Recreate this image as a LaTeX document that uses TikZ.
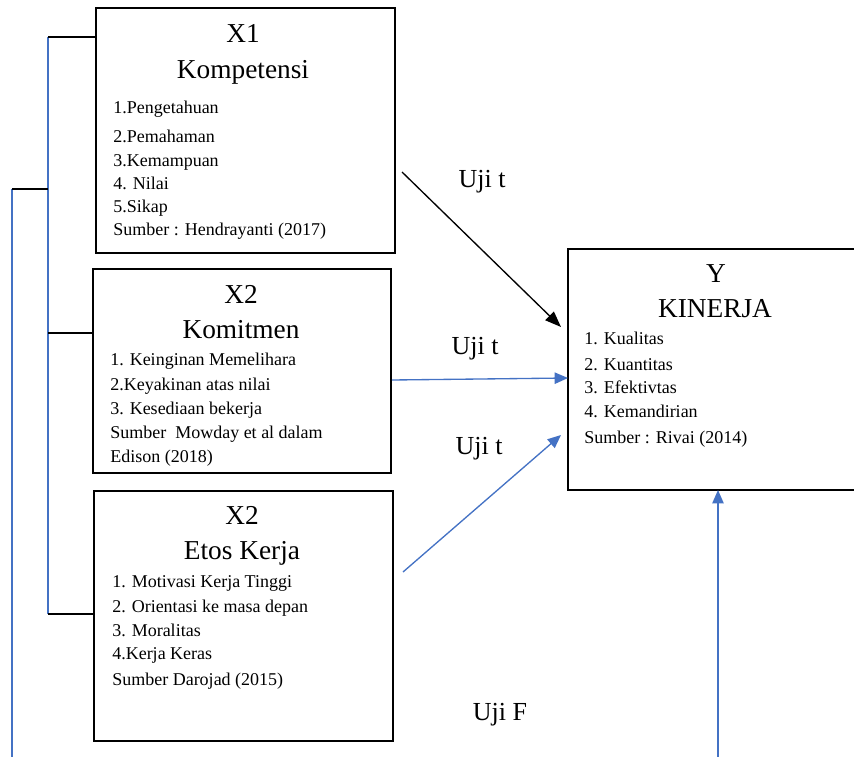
\documentclass[tikz,border=0pt]{standalone}
\usepackage{fontspec}
\setmainfont{Liberation Serif}
\usetikzlibrary{arrows.meta}
\definecolor{birugaris}{RGB}{68,114,196}

\begin{document}
\begin{tikzpicture}[x=0.75pt, y=-0.75pt,
    box/.style={draw, line width=1.2pt, inner sep=0pt, outer sep=0pt},
    judul/.style={font=\fontsize{20.5}{24}\selectfont, anchor=base},
    isi/.style={font=\fontsize{13.5}{16}\selectfont, anchor=base west, inner sep=0pt},
    uji/.style={font=\fontsize{19.5}{23}\selectfont, anchor=base},
    garis/.style={line width=1pt},
    biru/.style={draw=birugaris, line width=1pt},
    panahbiru/.style={biru, -{Triangle[length=10pt,width=8.5pt]}}]

      \useasboundingbox (0,0) rectangle (854,757);
      \clip (0,0) rectangle (854,757);

      % Boxes
      \node[box, minimum width=224.25pt, minimum height=183.75pt] (x1) at (245.5,130.5) {};
      \node[box, minimum width=223.5pt, minimum height=153pt] (x2) at (242,371) {};
      \node[box, minimum width=224.25pt, minimum height=187.5pt] (x3) at (243.5,616) {};
      \node[box, minimum width=223.5pt, minimum height=180.75pt] (y) at (717,369.5) {};

      % X1 Kompetensi
      \node[judul] (x1a) at (243,42) {X1};
      \node[judul] (x1b) at (243,78) {Kompetensi};
      \node[isi] (x1c) at (113,113) {1.Pengetahuan};
      \node[isi] (x1d) at (113,142) {2.Pemahaman};
      \node[isi] (x1e) at (113,166) {3.Kemampuan};
      \node[isi] (x1f) at (113,189) {4. Nilai};
      \node[isi] (x1g) at (113,212) {5.Sikap};
      \node[isi] (x1h) at (113,235) {Sumber : Hendrayanti (2017)};

      % X2 Komitmen
      \node[judul] (x2a) at (241,303) {X2};
      \node[judul] (x2b) at (241,338) {Komitmen};
      \node[isi] (x2c) at (110,365) {1. Keinginan Memelihara};
      \node[isi] (x2d) at (110,390) {2.Keyakinan atas nilai};
      \node[isi] (x2e) at (110,414) {3. Kesediaan bekerja};
      \node[isi] (x2f) at (110,438) {Sumber\ \ Mowday et al dalam};
      \node[isi] (x2g) at (110,462) {Edison (2018)};

      % X2 Etos Kerja
      \node[judul] (x3a) at (242,524) {X2};
      \node[judul] (x3b) at (242,559) {Etos Kerja};
      \node[isi] (x3c) at (112,587) {1. Motivasi Kerja Tinggi};
      \node[isi] (x3d) at (112,612) {2. Orientasi ke masa depan};
      \node[isi] (x3e) at (112,636) {3. Moralitas};
      \node[isi] (x3f) at (112,659) {4.Kerja Keras};
      \node[isi] (x3g) at (112,685) {Sumber Darojad (2015)};

      % Y Kinerja
      \node[judul] (ya) at (716,282) {Y};
      \node[judul] (yb) at (715,317) {KINERJA};
      \node[isi] (yc) at (584,344) {1. Kualitas};
      \node[isi] (yd) at (584,370) {2. Kuantitas};
      \node[isi] (ye) at (584,393) {3. Efektivtas};
      \node[isi] (yf) at (584,417) {4. Kemandirian};
      \node[isi] (yg) at (584,443) {Sumber : Rivai (2014)};

      % test labels
      \node[uji] (u1) at (482,187) {Uji t};
      \node[uji] (u2) at (475,354) {Uji t};
      \node[uji] (u3) at (479,454) {Uji t};
      \node[uji] (uf) at (500,720) {Uji F};

      % bracket on the left
      \coordinate (b1) at (48,37);
      \coordinate (b2) at (48,333);
      \coordinate (b3) at (48,614);
      \coordinate (o1) at (12,189);
      \coordinate (o2) at (12,760);
      \draw[biru] (b1) -- (b3);
      \draw[biru] (o1) -- (o2);
      \draw[garis] (b1) -- (b1 -| x1.west);
      \draw[garis] (b2) -- (b2 -| x2.west);
      \draw[garis] (b3) -- (b3 -| x3.west);
      \draw[garis] (o1) -- (o1 -| b1);

      % arrows to Y
      \coordinate (p1) at (402,172);
      \coordinate (q1) at (561,327);
      \coordinate (p2) at (392,380);
      \coordinate (q2) at (568,378);
      \coordinate (p3) at (403,572);
      \coordinate (q3) at (561,435);
      \coordinate (p4) at (718,760);
      \draw[garis, -{Triangle[length=12pt,width=9pt]}] (p1) -- (q1);
      \draw[panahbiru] (p2) -- (q2 -| y.west);
      \draw[panahbiru] (p3) -- (q3);
      \draw[panahbiru] (p4) -- (p4 |- y.south);

\end{tikzpicture}
\end{document}
